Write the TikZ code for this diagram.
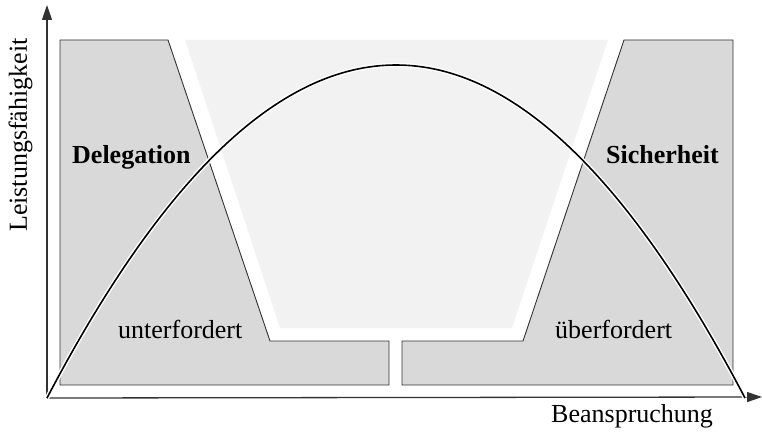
\documentclass[tikz,border=0pt]{standalone}
\usepackage{fontspec}
\setmainfont{Liberation Serif}
\usetikzlibrary{arrows.meta}

\definecolor{zonegrey}{HTML}{D9D9D9}
\definecolor{flowgrey}{HTML}{F2F2F2}

\begin{document}
\begin{tikzpicture}[x=1pt, y=-1pt,
    zone/.style={draw=black!80, line width=0.9pt, fill=zonegrey},
    flow/.style={fill=flowgrey},
    axis/.style={draw=black!80, line width=1.3pt, -{Triangle[length=15pt, width=10pt]}},
    curve/.style={draw=black, line width=1.6pt,
      preaction={draw=white, line width=4.5pt}},
    lbl/.style={inner sep=0pt, anchor=base west, font=\fontsize{26}{30}\selectfont},
    bold/.style={lbl, font=\fontsize{26}{30}\selectfont\bfseries}
  ]
    \useasboundingbox (0,0) rectangle (762,436);
    % flow channel
    \fill[flow] (185,40) -- (608,40) -- (512,328) -- (280,328) -- cycle;
    % zones
    \draw[zone] (60,40) -- (168,40) -- (270,341) -- (389,341) -- (389,385)
      -- (60,385) -- cycle;
    \draw[zone] (402,385) -- (402,341) -- (523,341) -- (624,40) -- (733,40)
      -- (733,385) -- cycle;
    % axes
    \coordinate (O) at (47,398);
    \coordinate (XEND) at (762,397);
    \coordinate (YEND) at (47,5);
    \draw[axis] (O) -- (XEND);
    \draw[axis] (O) -- (YEND);
    % performance curve
    \coordinate (CEND) at (745,398);
    \draw[curve] (O) .. controls (279.7,-46) and (512.3,-46) .. (CEND);
    % labels
    \node[bold] (DEL) at (72,163) {Delegation};
    \node[bold] (SICH) at (606,163) {Sicherheit};
    \node[lbl] (UNTER) at (118,338) {unterfordert};
    \node[lbl] (UEBER) at (555,338) {überfordert};
    \node[lbl] (XLBL) at (551,422) {Beanspruchung};
    \node[lbl, rotate=90] (YLBL) at (27,232) {Leistungsfähigkeit};
  \end{tikzpicture}
\end{document}
